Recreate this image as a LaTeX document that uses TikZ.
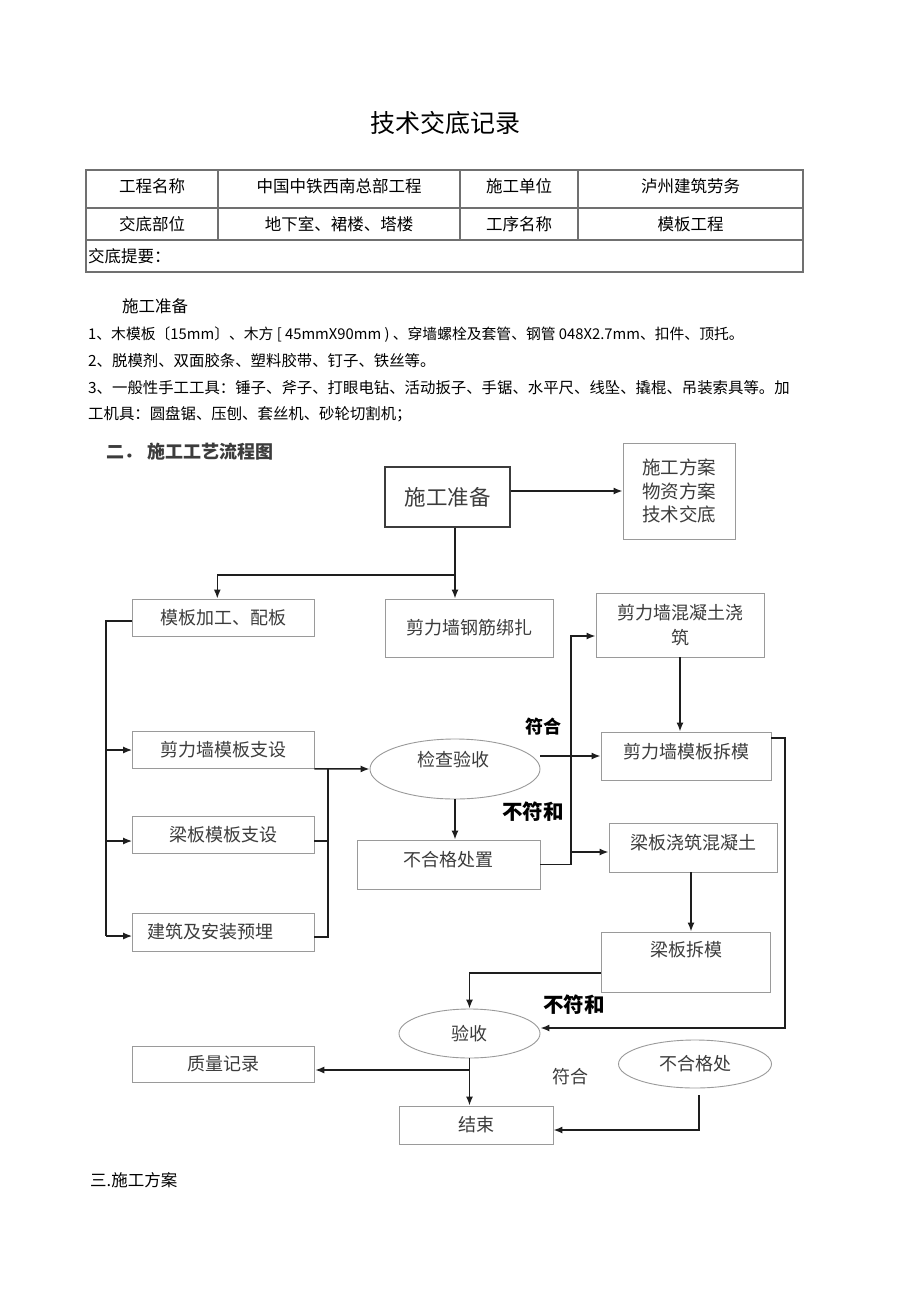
\documentclass[tikz,border=0pt]{standalone}
\usepackage{fontspec}
\setmainfont{Noto Sans CJK SC}
\usetikzlibrary{shapes.geometric,arrows.meta,calc}
\newcommand{\myfs}[1]{\fontsize{#1}{#1}\selectfont}
\definecolor{boxgray}{HTML}{9A9A9A}
\definecolor{txtgray}{HTML}{3C3C3C}
\definecolor{arrblack}{HTML}{1E1E1E}
\definecolor{tblgray}{HTML}{707070}
\begin{document}
\begin{tikzpicture}[x=1pt,y=-1pt,
  box/.style={draw=boxgray, line width=0.9pt, rectangle, inner sep=0pt, text=txtgray, font=\myfs{18}},
  oval/.style={draw=boxgray, line width=0.9pt, ellipse, inner sep=0pt, text=txtgray, font=\myfs{18}},
  ftxt/.style={inner sep=0pt, text=txtgray, font=\myfs{18}},
  arr/.style={draw=arrblack, line width=1.5pt, -{Latex[length=9pt,width=7pt]}},
  ln/.style={draw=arrblack, line width=1.5pt},
  lblb/.style={inner sep=0pt, text=black, font=\myfs{18}\bfseries},
  tbl/.style={inner sep=0pt, text=black, font=\myfs{16.5}},
  tline/.style={draw=tblgray, line width=1.2pt},
  body/.style={inner sep=0pt, anchor=west, text=black, font=\myfs{15.4}}]
\useasboundingbox[fill=white] (0,0) rectangle (920,1301);

% title
\node[inner sep=0pt, font=\myfs{25}] (title) at (445,123) {技术交底记录};

% table
\draw[tline] (86,170) rectangle (803,272);
\draw[tline] (86,208) -- (803,208);
\draw[tline] (86,240) -- (803,240);
\foreach \xx in {218,460,578} \draw[tline] (\xx,170) -- (\xx,240);
\node[tbl] (t11) at (152,186) {工程名称};
\node[tbl] (t12) at (339,186) {中国中铁西南总部工程};
\node[tbl] (t13) at (519,186) {施工单位};
\node[tbl] (t14) at (690.5,186) {泸州建筑劳务};
\node[tbl] (t21) at (152,224) {交底部位};
\node[tbl] (t22) at (339,224) {地下室、裙楼、塔楼};
\node[tbl] (t23) at (519,224) {工序名称};
\node[tbl] (t24) at (690.5,224) {模板工程};
\node[tbl, anchor=west] (t31) at (88,256) {交底提要：};

% body text
\node[body, font=\myfs{16.5}] (sg) at (122,306) {施工准备};
\node[body, font=\myfs{14.8}] (l1) at (88,335) {1、木模板〔15mm〕、木方 [ 45mmX90mm ) 、穿墙螺栓及套管、钢管 048X2.7mm、扣件、顶托。};
\node[body] (l2) at (88,361) {2、脱模剂、双面胶条、塑料胶带、钉子、铁丝等。};
\node[body] (l3) at (88,388) {3、一般性手工工具：锤子、斧子、打眼电钻、活动扳子、手锯、水平尺、线坠、撬棍、吊装索具等。加};
\node[body] (l4) at (88,414) {工机具：圆盘锯、压刨、套丝机、砂轮切割机；};
\node[body, font=\myfs{18}\bfseries, text=txtgray] (h2) at (106,452) {二．\hspace{5pt}施工工艺流程图};
\node[body, font=\myfs{16.5}] (h3) at (90,1180) {三.施工方案};

% flowchart nodes
\node[box, draw=txtgray, line width=1.4pt, minimum width=125pt, minimum height=60pt, font=\myfs{21.5}] (zb) at (447.5,497) {施工准备};
\node[box, minimum width=112pt, minimum height=96pt, align=center, font=\myfs{18.5}] (fa) at (679,491) {施工方案\\[5pt]物资方案\\[5pt]技术交底};
\node[box, minimum width=181.4pt, minimum height=37pt] (mb) at (223.3,617.5) {模板加工、配板};
\node[box, minimum width=168pt, minimum height=58pt] (gj) at (469,628) {剪力墙钢筋绑扎};
\node[box, minimum width=168pt, minimum height=64pt, align=center] (hn) at (680,625) {剪力墙混凝土浇\\[7pt]筑};
\node[box, minimum width=181.4pt, minimum height=36.6pt] (jm) at (223.3,750) {剪力墙模板支设};
\node[box, minimum width=181.4pt, minimum height=37pt] (lm) at (223.3,834.5) {梁板模板支设};
\node[box, minimum width=181.4pt, minimum height=38pt] (jz) at (223.3,932) {};
\node[ftxt] (jzt) at (210,932) {建筑及安装预埋};
\node[oval, minimum width=170pt, minimum height=60pt] (jy) at (455,769) {};
\node[ftxt] (jyt) at (453,760) {检查验收};
\node[box, minimum width=183pt, minimum height=49pt] (bh) at (448.5,864.5) {};
\node[ftxt] (bht) at (448.5,860) {不合格处置};
\node[box, minimum width=170pt, minimum height=48pt] (cm) at (686,756) {};
\node[ftxt] (cmt) at (686.5,752) {剪力墙模板拆模};
\node[box, minimum width=168pt, minimum height=49pt] (lj) at (693,847.5) {};
\node[ftxt] (ljt) at (693,843) {梁板浇筑混凝土};
\node[box, minimum width=169pt, minimum height=60pt] (lc) at (685.5,962) {};
\node[ftxt] (lct) at (686,950) {梁板拆模};
\node[oval, minimum width=141pt, minimum height=49pt] (ys) at (469.5,1033.5) {验收};
\node[box, minimum width=182pt, minimum height=36pt] (zl) at (223.8,1064) {质量记录};
\node[oval, minimum width=153pt, minimum height=48pt] (bhc) at (695,1064) {不合格处};
\node[box, minimum width=154pt, minimum height=38pt] (js) at (476,1125) {结束};

% labels
\node[lblb] (fh1) at (543,727) {符合};
\node[lblb, font=\myfs{20.5}\bfseries] (bf1) at (533,812) {不符和};
\node[lblb, font=\myfs{20.5}\bfseries] (bf2) at (574,1005) {不符和};
\node[ftxt] (fh2) at (570,1077) {符合};

% connectors
\draw[arr] (zb.east |- fa.west) -- (fa.west);
\draw[arr] ([xshift=7.5]zb.south) -- ([xshift=7.5]zb.south |- gj.north);
\coordinate (br1) at (455,575);
\draw[arr] (br1) -| ([xshift=-6]mb.north);

\coordinate (lbt) at (106,621);
\coordinate (lbb) at (106,936);
\draw[ln] (lbt -| mb.west) -- (lbt) -- (lbb);
\draw[arr] (lbt |- jm.west) -- (jm.west);
\coordinate (lmin) at ([yshift=-6.5]lm.west);
\draw[arr] (lbt |- lmin) -- (lmin);
\coordinate (jzin) at ([yshift=-4]jz.west);
\draw[arr] (lbb) -- (jzin);

\coordinate (rb) at (328,768);
\draw[arr] (jm.south east) -- (jy.west);
\draw[ln] ([yshift=-5]jz.east) -| (rb);
\draw[ln] ([yshift=-6.5]lm.east) -- ++(14,0);

\draw[arr] (jy.east |- cm.west) -- (cm.west);
\draw[arr] (hn.south) -- (hn.south |- cm.north);
\draw[arr] (jy.south) -- (jy.south |- bh.north);

\coordinate (vb) at (571,864.5);
\draw[ln] (bh.east) -- (vb);
\draw[arr] (vb) |- ([yshift=-11]hn.west);
\coordinate (ljin) at ([yshift=-4.5]lj.west);
\draw[arr] (vb |- ljin) -- (ljin);

\draw[arr] ([xshift=-2]lj.south) -- ([xshift=-2]lj.south |- lc.north);
\draw[arr] ([yshift=-11]lc.west) -| (ys.north);

\coordinate (rbb) at (785,1028);
\draw[arr] ([yshift=18]cm.east) -| (rbb) -- (rbb -| ys.east);

\draw[arr] (ys.south) -- (ys.south |- js.north);
\coordinate (br2) at (469.5,1070);
\draw[arr] (br2) -- (br2 -| zl.east);
\draw[arr] ([xshift=4,yshift=-7]bhc.south) |- ([yshift=-5]js.east);
\end{tikzpicture}
\end{document}
